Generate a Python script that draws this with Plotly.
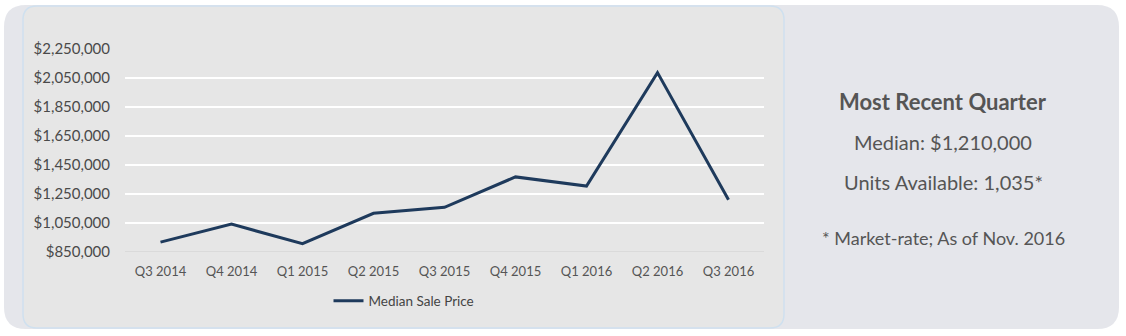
import plotly.graph_objects as go

quarters = ["Q3 2014", "Q4 2014", "Q1 2015", "Q2 2015", "Q3 2015",
            "Q4 2015", "Q1 2016", "Q2 2016", "Q3 2016"]
median_price = [918000, 1042000, 907000, 1117000, 1158000,
                1368000, 1305000, 2087000, 1210000]
y_ticks = [850000, 1050000, 1250000, 1450000, 1650000, 1850000, 2050000, 2250000]
y_tick_labels = ["${:,}".format(v) for v in y_ticks]

side_title = "Most Recent Quarter"
side_lines = ["Median: $1,210,000", "Units Available: 1,035*"]
side_note = "* Market-rate; As of Nov. 2016"

W, H = 1126, 336
L, R, T, B = 125, 764, 49, 252
FONT = "Lato, 'Open Sans', sans-serif"
TXT = "#555555"


def px(x):
    return (x - L) / (R - L)


def py(y):
    return (B - y) / (B - T)


def rrect(x0, y0, x1, y1, r):
    pts = (f"M {px(x0 + r)},{py(y0)} L {px(x1 - r)},{py(y0)} "
           f"Q {px(x1)},{py(y0)} {px(x1)},{py(y0 + r)} "
           f"L {px(x1)},{py(y1 - r)} Q {px(x1)},{py(y1)} {px(x1 - r)},{py(y1)} "
           f"L {px(x0 + r)},{py(y1)} Q {px(x0)},{py(y1)} {px(x0)},{py(y1 - r)} "
           f"L {px(x0)},{py(y0 + r)} Q {px(x0)},{py(y0)} {px(x0 + r)},{py(y0)} Z")
    return pts


fig = go.Figure()
fig.add_trace(go.Scatter(
    x=quarters, y=median_price, mode="lines", name="Median Sale Price",
    line=dict(color="#1e3a5c", width=3),
))

shapes = [
    dict(type="path", xref="paper", yref="paper", layer="below",
         path=rrect(4, 5, 1119, 329, 22), fillcolor="#e5e6eb",
         line=dict(width=0)),
    dict(type="path", xref="paper", yref="paper", layer="below",
         path=rrect(23, 6, 784, 328, 14), fillcolor="#e6e6e6",
         line=dict(color="#cfe0ef", width=1.5)),
]

annotations = [
    dict(text="<b>" + side_title + "</b>", x=px(943), y=py(101), xref="paper", yref="paper",
         showarrow=False, font=dict(family=FONT, size=22, color=TXT), xanchor="center", yanchor="middle"),
    dict(text=side_lines[0], x=px(943), y=py(142), xref="paper", yref="paper",
         showarrow=False, font=dict(family=FONT, size=20, color=TXT), xanchor="center", yanchor="middle"),
    dict(text=side_lines[1], x=px(943), y=py(182), xref="paper", yref="paper",
         showarrow=False, font=dict(family=FONT, size=20, color=TXT), xanchor="center", yanchor="middle"),
    dict(text=side_note, x=px(943), y=py(238), xref="paper", yref="paper",
         showarrow=False, font=dict(family=FONT, size=18, color=TXT), xanchor="center", yanchor="middle"),
]

fig.update_layout(
    width=W, height=H,
    margin=dict(l=L, r=W - R, t=T, b=H - B, pad=0),
    paper_bgcolor="white", plot_bgcolor="rgba(0,0,0,0)",
    font=dict(family=FONT, color=TXT),
    shapes=shapes, annotations=annotations,
    showlegend=True,
    legend=dict(orientation="h", x=px(404), y=py(301), xanchor="center", yanchor="middle",
                font=dict(family=FONT, size=13.5, color="#444444"), bgcolor="rgba(0,0,0,0)",
                itemwidth=30),
    xaxis=dict(type="category", range=[-0.5, 8.5], showgrid=False, zeroline=False,
               showline=False, ticks="", tickfont=dict(family=FONT, size=13, color=TXT),
               ticklabelstandoff=10),
    yaxis=dict(range=[850000, 2250000], tickvals=y_ticks, ticktext=y_tick_labels,
               showgrid=True, gridcolor="white", gridwidth=1.5, zeroline=False,
               showline=False, ticks="", tickfont=dict(family=FONT, size=15, color="#4a4a4a"),
               ticklabelstandoff=14),
)
fig.add_hline(y=850000, line=dict(color="#d6d6d6", width=1.5), layer="below")

fig.write_html("out.html")
